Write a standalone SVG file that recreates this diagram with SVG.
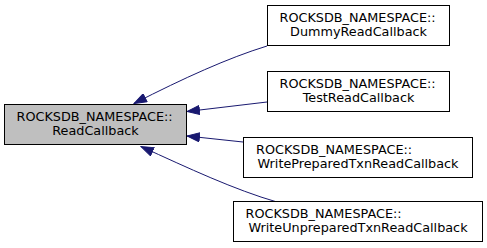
<svg xmlns="http://www.w3.org/2000/svg" width="487" height="248" viewBox="0 0 487 248">
  <style>
    .node rect { fill: #ffffff; stroke: #000000; stroke-width: 1; }
    #base rect { fill: #bfbfbf; }
    text { font-family: "DejaVu Sans", "Liberation Sans", sans-serif; font-size: 12.8px; fill: #000000; }
    .l1 { text-anchor: start; }
    .l2 { text-anchor: middle; }
    .edge path { fill: none; stroke: #191970; stroke-width: 1; }
  </style>
  <defs>
    <marker id="arrow" markerUnits="userSpaceOnUse" markerWidth="14" markerHeight="10" refX="13" refY="5" orient="auto">
      <path d="M0.5,0.5 L13,5 L0.5,9.5 Z" fill="#191970" stroke="#191970" stroke-width="1"/>
    </marker>
  </defs>

  <rect width="487" height="248" fill="#ffffff"/>

  <!-- inheritance edges: derived class -> base class -->
  <g id="edges" class="edge">
    <path d="M267,46 C228,58 184,78 134,103.5" marker-end="url(#arrow)"/>
    <path d="M267,102 L187,111.5" marker-end="url(#arrow)"/>
    <path d="M243,142 L187,136" marker-end="url(#arrow)"/>
    <path d="M277,202 C235,190 188,168 141,146.5" marker-end="url(#arrow)"/>
  </g>

  <g id="base" class="node">
    <rect x="4.5" y="104.5" width="182" height="40"/>
    <text class="l1" x="16.5" y="121">ROCKSDB_NAMESPACE::</text>
    <text class="l2" x="95.5" y="134.5">ReadCallback</text>
  </g>

  <g id="dummy" class="node">
    <rect x="267.5" y="5.5" width="182" height="40"/>
    <text class="l1" x="279.5" y="22">ROCKSDB_NAMESPACE::</text>
    <text class="l2" x="358.5" y="35.5">DummyReadCallback</text>
  </g>

  <g id="test" class="node">
    <rect x="267.5" y="71.5" width="182" height="40"/>
    <text class="l1" x="279.5" y="88">ROCKSDB_NAMESPACE::</text>
    <text class="l2" x="358.5" y="101.5">TestReadCallback</text>
  </g>

  <g id="write-prepared" class="node">
    <rect x="243.5" y="137.5" width="229" height="40"/>
    <text class="l1" x="256" y="154">ROCKSDB_NAMESPACE::</text>
    <text class="l2" x="358" y="167.5">WritePreparedTxnReadCallback</text>
  </g>

  <g id="write-unprepared" class="node">
    <rect x="233.5" y="201.5" width="249" height="40"/>
    <text class="l1" x="245.5" y="218">ROCKSDB_NAMESPACE::</text>
    <text class="l2" x="358" y="231.5">WriteUnpreparedTxnReadCallback</text>
  </g>
</svg>
